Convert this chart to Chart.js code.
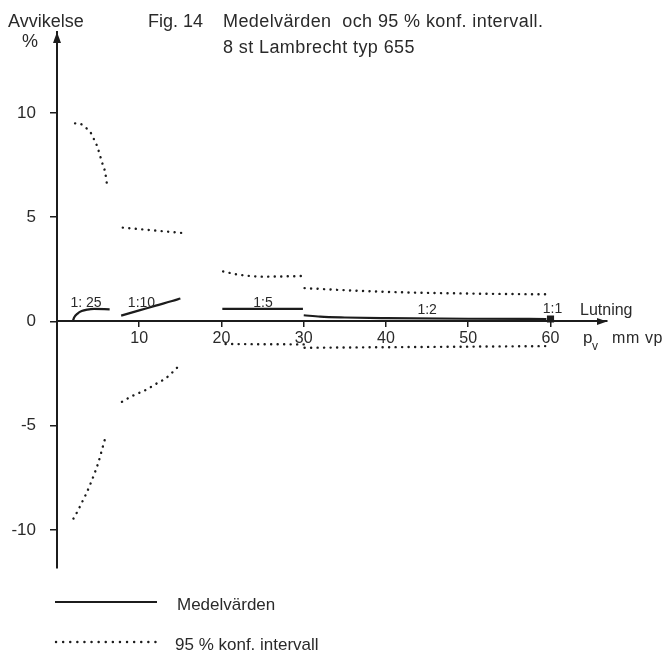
<!DOCTYPE html>
<html>
<head>
<meta charset="utf-8">
<script src="https://cdn.jsdelivr.net/npm/chart.js@4.4.1/dist/chart.umd.min.js"></script>
<style>
  html, body { margin: 0; padding: 0; background: #fff; }
  #wrap { width: 671px; height: 655px; }
</style>
</head>
<body>
<div id="wrap"><canvas id="fig14"></canvas></div>
<script>
// axlar
const xTicks = [10, 20, 30, 40, 50, 60];
const yTicks = [-10, -5, 0, 5, 10];

// lutningar
const lutningar = ['1: 25', '1:10', '1:5', '1:2', '1:1'];

// medelvärden, [pv mm vp, avvikelse %]
const medel125 = [[1.9, 0], [2.1, 0.2], [2.5, 0.38], [3.0, 0.5], [3.7, 0.57], [4.5, 0.6], [6.4, 0.58]];
const medel110 = [[7.8, 0.28], [10, 0.53], [12, 0.76], [14, 0.98], [15, 1.1]];
const medel15 = [[20.1, 0.6], [29.9, 0.6]];
const medel12 = [[30, 0.3], [32, 0.23], [35, 0.19], [40, 0.16], [50, 0.13], [59.5, 0.12]];
const medel11 = [[60, 0.12]];

// 95 % konf. intervall
const ovre125 = [[2.2, 9.5], [2.8, 9.48], [3.5, 9.29], [4.1, 9.05], [4.5, 8.73], [4.9, 8.38], [5.2, 8.0], [5.5, 7.6], [5.85, 7.16], [6.1, 6.5]];
const undre125 = [[2.0, -9.45], [2.5, -9.1], [3.0, -8.7], [3.5, -8.3], [4.0, -7.85], [4.5, -7.35], [5.0, -6.8], [5.5, -6.1], [6.0, -5.4]];
const ovre110 = [[8.0, 4.5], [15.1, 4.25]];
const undre110 = [[7.9, -3.85], [9, -3.6], [10.9, -3.26], [12, -3.0], [13.3, -2.7], [14.9, -2.1]];
const ovre15 = [[20.2, 2.4], [22, 2.25], [25, 2.15], [30, 2.18]];
const undre15 = [[20.5, -1.08], [30, -1.1]];
const ovre12 = [[30.1, 1.6], [35, 1.5], [40, 1.42], [50, 1.34], [60, 1.3]];
const undre12 = [[30.1, -1.26], [45, -1.22], [59.5, -1.18]];

// var lutningstexterna står (i diagrammets enheter)
const etikettX = [3.53, 10.27, 25.05, 45.0, 60.24];
const etikettY = [0.70, 0.70, 0.70, 0.36, 0.41];

const svart = '#1c1c1c';
const textFarg = '#2a2a2a';
const typsnitt = '"Liberation Sans", Arial, sans-serif';

const punkter = arr => arr.map(([x, y]) => ({ x, y }));

const heldragen = data => ({
    data: punkter(data),
    borderColor: svart,
    backgroundColor: svart,
    borderWidth: 2.2,
    pointRadius: 0,
    showLine: true,
    fill: false,
    cubicInterpolationMode: 'monotone'
});

const prickad = data => ({
    ...heldragen(data),
    borderWidth: 2.4,
    borderDash: [0.1, 6.4],
    borderCapStyle: 'round'
});

const text = (ctx, str, x, y, size, align, spacing) => {
    ctx.font = size + 'px ' + typsnitt;
    ctx.letterSpacing = spacing || '0px';
    ctx.textAlign = align || 'left';
    ctx.textBaseline = 'alphabetic';
    ctx.fillText(str, x, y);
};

const ritaExtra = {
    id: 'ritaExtra',
    afterDraw: chart => {
        const ctx = chart.ctx;
        const ca = chart.chartArea;
        const sx = chart.scales.x;
        const sy = chart.scales.y;
        const y0 = sy.getPixelForValue(0);

        ctx.save();
        ctx.fillStyle = svart;

        // pilar
        ctx.beginPath();
        ctx.moveTo(ca.left, ca.top);
        ctx.lineTo(ca.left - 4, ca.top + 11);
        ctx.lineTo(ca.left + 4, ca.top + 11);
        ctx.closePath();
        ctx.fill();

        ctx.beginPath();
        ctx.moveTo(ca.right, y0);
        ctx.lineTo(ca.right - 10, y0 - 3.5);
        ctx.lineTo(ca.right - 10, y0 + 3.5);
        ctx.closePath();
        ctx.fill();

        ctx.fillStyle = textFarg;

        // rubriker
        text(ctx, 'Avvikelse', 8, 27, 18);
        text(ctx, '%', 22, 47, 18);
        text(ctx, 'Fig. 14', 148, 27, 18);
        text(ctx, 'Medelvärden  och 95 % konf. intervall.', 223, 27, 18, 'left', '0.4px');
        text(ctx, '8 st Lambrecht typ 655', 223, 53, 18, 'left', '0.4px');

        // lutningar
        lutningar.forEach((l, i) => {
            text(ctx, l, sx.getPixelForValue(etikettX[i]), sy.getPixelForValue(etikettY[i]), 14, 'center');
        });
        text(ctx, 'Lutning', 580, 315, 16);
        text(ctx, 'p', 583, 343, 17);
        text(ctx, 'v', 592, 350, 12);
        text(ctx, 'mm vp', 612, 343, 16, 'left', '0.6px');

        // teckenförklaring
        ctx.strokeStyle = svart;
        ctx.lineWidth = 2.2;
        ctx.beginPath();
        ctx.moveTo(55, 602);
        ctx.lineTo(157, 602);
        ctx.stroke();
        ctx.lineWidth = 2.4;
        ctx.setLineDash([0.1, 7]);
        ctx.lineCap = 'round';
        ctx.beginPath();
        ctx.moveTo(56, 642);
        ctx.lineTo(157, 642);
        ctx.stroke();
        text(ctx, 'Medelvärden', 177, 610, 17);
        text(ctx, '95 % konf. intervall', 175, 650, 17);

        ctx.restore();
    }
};

const ctx = document.getElementById('fig14').getContext('2d');

const grafico = new Chart(ctx, {
    type: 'scatter',
    data: {
        datasets: [
            heldragen(medel125),
            heldragen(medel110),
            heldragen(medel15),
            heldragen(medel12),
            { ...heldragen(medel11), pointRadius: 3.5, pointStyle: 'rect' },
            prickad(ovre125),
            prickad(undre125),
            prickad(ovre110),
            prickad(undre110),
            prickad(ovre15),
            prickad(undre15),
            prickad(ovre12),
            prickad(undre12)
        ]
    },
    options: {
        responsive: true,
        maintainAspectRatio: false,
        animation: false,
        layout: {
            padding: { left: 0, top: 32, right: 64, bottom: 87 }
        },
        plugins: {
            legend: { display: false },
            title: { display: false },
            tooltip: { enabled: false }
        },
        scales: {
            x: {
                type: 'linear',
                position: { y: 0 },
                min: 0,
                max: 66.87,
                afterBuildTicks: s => { s.ticks = xTicks.map(v => ({ value: v })); },
                afterFit: s => { s.height = 0; },
                grid: { display: true, drawOnChartArea: false, drawTicks: true, tickLength: 5, color: svart, lineWidth: 1.5 },
                border: { display: true, color: svart, width: 2 },
                ticks: { color: textFarg, font: { family: typsnitt, size: 16 }, padding: 3, maxRotation: 0, autoSkip: false }
            },
            y: {
                type: 'linear',
                position: 'left',
                min: -11.82,
                max: 13.88,
                afterBuildTicks: s => { s.ticks = yTicks.map(v => ({ value: v })); },
                afterFit: s => { s.width = 57; },
                grid: { display: true, drawOnChartArea: false, drawTicks: true, tickLength: 7, color: svart, lineWidth: 1.5 },
                border: { display: true, color: svart, width: 2 },
                ticks: { color: textFarg, font: { family: typsnitt, size: 17 }, padding: 14 }
            }
        }
    },
    plugins: [ritaExtra]
});
</script>
</body>
</html>
